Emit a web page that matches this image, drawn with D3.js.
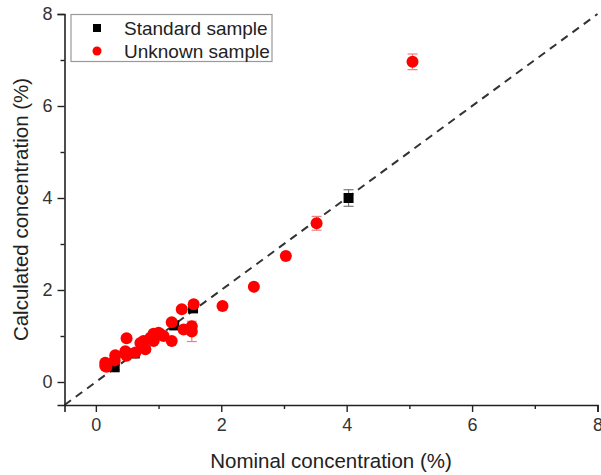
<!DOCTYPE html>
<html>
<head>
<meta charset="utf-8">
<script src="https://cdn.jsdelivr.net/npm/d3@7"></script>
<style>
  body { margin: 0; background: #fff; }
  text { font-family: "Liberation Sans", Arial, sans-serif; fill: #222; }
</style>
</head>
<body>
<div id="graf"></div>
<script>
// datos
standardX   = [0.30, 0.62, 0.93, 1.25, 1.55, 4.03]
standardY   = [0.32, 0.62, 0.95, 1.23, 1.60, 4.00]
standardErr = [0.05, 0.05, 0.05, 0.07, 0.08, 0.18]

unknownX   = [0.15, 0.17, 0.15, 0.30, 0.31, 0.47, 0.49, 0.49, 0.63, 0.71, 0.76, 0.79, 0.87, 0.92, 0.92, 1.00, 1.04, 1.08, 1.21, 1.21, 1.37, 1.40, 1.53, 1.53, 1.56, 2.02, 2.52, 3.03, 3.52, 5.05]
unknownY   = [0.42, 0.33, 0.35, 0.47, 0.58, 0.67, 0.57, 0.95, 0.64, 0.85, 0.89, 0.71, 0.96, 0.89, 1.05, 1.07, 1.03, 1.00, 0.89, 1.30, 1.58, 1.14, 1.21, 1.10, 1.69, 1.65, 2.07, 2.74, 3.45, 6.96]
unknownErr = [0.04, 0.04, 0.04, 0.04, 0.04, 0.04, 0.04, 0.05, 0.04, 0.04, 0.05, 0.04, 0.05, 0.05, 0.05, 0.05, 0.05, 0.05, 0.05, 0.06, 0.06, 0.06, 0.06, 0.22, 0.07, 0.05, 0.05, 0.05, 0.15, 0.17]

xTicks = [0, 2, 4, 6, 8]
yTicks = [0, 2, 4, 6, 8]
minorTicks = [1, 3, 5, 7]

ancho_total = 601
alto_total = 475

svg = d3.select('#graf').append('svg')
        .attr('width', ancho_total)
        .attr('height', alto_total)

x = d3.scaleLinear().domain([-0.5, 8]).range([64.5, 597.5])
y = d3.scaleLinear().domain([-0.5, 8]).range([405, 14])

// linea y = x discontinua
svg.append('line')
   .attr('x1', x(-0.5)).attr('y1', y(-0.5))
   .attr('x2', x(8)).attr('y2', y(8))
   .attr('stroke', '#333')
   .attr('stroke-width', 2)
   .attr('stroke-dasharray', '8,6')

// ejes
xAxisG = svg.append('g').attr('transform', `translate(0, ${y(-0.5)})`)
xAxisG.call(d3.axisBottom(x).tickValues(xTicks).tickSize(7).tickPadding(6).tickFormat(d3.format('d')))
xMinor = svg.append('g').attr('transform', `translate(0, ${y(-0.5)})`)
xMinor.call(d3.axisBottom(x).tickValues(minorTicks).tickSize(4).tickFormat(''))

yAxisG = svg.append('g').attr('transform', `translate(${x(-0.5)}, 0)`)
yAxisG.call(d3.axisLeft(y).tickValues(yTicks).tickSize(7).tickPadding(5).tickFormat(d3.format('d')))
yMinor = svg.append('g').attr('transform', `translate(${x(-0.5)}, 0)`)
yMinor.call(d3.axisLeft(y).tickValues(minorTicks).tickSize(4).tickFormat(''))

svg.selectAll('.domain').attr('stroke', '#222').attr('stroke-width', 1.6)
svg.selectAll('.tick line').attr('stroke', '#222').attr('stroke-width', 1.4)
svg.selectAll('.tick text').attr('font-size', '18px').style('fill', '#333')
  .attr('font-family', '"Liberation Sans", Arial, sans-serif')
xMinor.select('.domain').remove()
yMinor.select('.domain').remove()

// titulos de ejes
svg.append('text')
   .attr('x', x(3.75)).attr('y', 468)
   .attr('text-anchor', 'middle')
   .attr('font-size', '20.5px')
   .text('Nominal concentration (%)')

svg.append('text')
   .attr('transform', `translate(28, ${y(3.75)}) rotate(-90)`)
   .attr('text-anchor', 'middle')
   .attr('font-size', '20.5px')
   .text('Calculated concentration (%)')

// barras de error
function errorBars(xs, ys, errs, color) {
  const g = svg.append('g').attr('stroke', color).attr('stroke-width', 1.2)
  xs.forEach((v, i) => {
    const cx = x(v)
    const y1 = y(ys[i] + errs[i])
    const y2 = y(ys[i] - errs[i])
    g.append('line').attr('x1', cx).attr('x2', cx).attr('y1', y1).attr('y2', y2)
    g.append('line').attr('x1', cx - 5).attr('x2', cx + 5).attr('y1', y1).attr('y2', y1)
    g.append('line').attr('x1', cx - 5).attr('x2', cx + 5).attr('y1', y2).attr('y2', y2)
  })
}

errorBars(standardX, standardY, standardErr, '#777')
svg.append('g').selectAll('rect')
   .data(standardX)
   .enter().append('rect')
   .attr('x', (d) => x(d) - 5)
   .attr('y', (d, i) => y(standardY[i]) - 5)
   .attr('width', 10).attr('height', 10)
   .attr('fill', '#000')

errorBars(unknownX, unknownY, unknownErr, '#f08080')
svg.append('g').selectAll('circle')
   .data(unknownX)
   .enter().append('circle')
   .attr('cx', (d) => x(d))
   .attr('cy', (d, i) => y(unknownY[i]))
   .attr('r', 6)
   .attr('fill', '#ff0000')

// leyenda
leg = svg.append('g')
leg.append('rect')
   .attr('x', 71).attr('y', 14.5).attr('width', 201).attr('height', 47)
   .attr('fill', '#fff').attr('stroke', '#999').attr('stroke-width', 1.2)
leg.append('rect').attr('x', 93).attr('y', 24).attr('width', 8).attr('height', 8).attr('fill', '#000')
leg.append('circle').attr('cx', 97).attr('cy', 51).attr('r', 4.5).attr('fill', '#ff0000')
leg.append('text').attr('x', 124).attr('y', 35).attr('font-size', '19px').style('fill', '#222').text('Standard sample')
leg.append('text').attr('x', 124).attr('y', 58).attr('font-size', '19px').style('fill', '#222').text('Unknown sample')
</script>
</body>
</html>
